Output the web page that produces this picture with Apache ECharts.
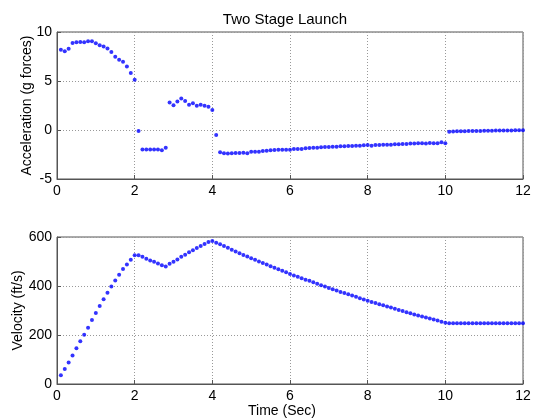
<!DOCTYPE html>
<html>
<head>
<meta charset="utf-8">
<script src="https://cdn.jsdelivr.net/npm/echarts@6/dist/echarts.min.js"></script>
<style>
html, body { margin: 0; padding: 0; background: #fff; }
#launch { width: 535px; height: 420px; }
</style>
</head>
<body>
<div id="launch"></div>
<script>
var time = [0.1, 0.2, 0.3, 0.4, 0.5, 0.6, 0.7, 0.8, 0.9, 1.0,
	1.1, 1.2, 1.3, 1.4, 1.5, 1.6, 1.7, 1.8, 1.9, 2.0,
	2.1, 2.2, 2.3, 2.4, 2.5, 2.6, 2.7, 2.8, 2.9, 3.0,
	3.1, 3.2, 3.3, 3.4, 3.5, 3.6, 3.7, 3.8, 3.9, 4.0,
	4.1, 4.2, 4.3, 4.4, 4.5, 4.6, 4.7, 4.8, 4.9, 5.0,
	5.1, 5.2, 5.3, 5.4, 5.5, 5.6, 5.7, 5.8, 5.9, 6.0,
	6.1, 6.2, 6.3, 6.4, 6.5, 6.6, 6.7, 6.8, 6.9, 7.0,
	7.1, 7.2, 7.3, 7.4, 7.5, 7.6, 7.7, 7.8, 7.9, 8.0,
	8.1, 8.2, 8.3, 8.4, 8.5, 8.6, 8.7, 8.8, 8.9, 9.0,
	9.1, 9.2, 9.3, 9.4, 9.5, 9.6, 9.7, 9.8, 9.9, 10.0,
	10.1, 10.2, 10.3, 10.4, 10.5, 10.6, 10.7, 10.8, 10.9, 11.0,
	11.1, 11.2, 11.3, 11.4, 11.5, 11.6, 11.7, 11.8, 11.9, 12.0];

// g forces
var accel = [8.18, 8.04, 8.28, 8.89, 8.95, 8.99, 8.95, 9.05, 9.05, 8.85,
	8.65, 8.51, 8.31, 7.97, 7.47, 7.16, 6.96, 6.49, 5.81, 5.14,
	-0.10, -1.99, -1.99, -1.99, -1.99, -1.99, -2.06, -1.82, 2.80, 2.53,
	2.91, 3.21, 2.97, 2.57, 2.74, 2.47, 2.57, 2.47, 2.36, 2.03,
	-0.51, -2.28, -2.38, -2.41, -2.38, -2.35, -2.35, -2.31, -2.38, -2.21,
	-2.21, -2.21, -2.14, -2.11, -2.07, -2.04, -2.01, -2.01, -2.01, -2.01,
	-1.94, -1.94, -1.94, -1.87, -1.84, -1.80, -1.80, -1.77, -1.73, -1.73,
	-1.70, -1.70, -1.67, -1.67, -1.63, -1.63, -1.60, -1.60, -1.56, -1.53,
	-1.60, -1.53, -1.53, -1.50, -1.50, -1.50, -1.46, -1.46, -1.43, -1.43,
	-1.39, -1.39, -1.36, -1.36, -1.39, -1.33, -1.36, -1.36, -1.26, -1.36,
	-0.17, -0.15, -0.14, -0.14, -0.12, -0.11, -0.11, -0.10, -0.09, -0.08,
	-0.08, -0.07, -0.06, -0.06, -0.05, -0.05, -0.04, -0.03, -0.03, -0.02];

// ft/s
var velocity = [36, 61, 88, 116, 146, 174, 201, 230, 261, 290,
	318, 346, 372, 398, 422, 446, 469, 488, 507, 526,
	526, 519, 511, 504, 499, 492, 485, 480, 491, 499,
	508, 519, 528, 538, 546, 555, 563, 571, 580, 584,
	577, 570, 563, 556, 548, 541, 534, 527, 520, 513,
	507, 500, 494, 488, 481, 475, 468, 462, 456, 449,
	443, 438, 432, 426, 421, 415, 409, 403, 398, 392,
	387, 382, 376, 371, 366, 361, 356, 350, 345, 340,
	335, 331, 326, 321, 316, 312, 307, 302, 298, 293,
	289, 284, 280, 276, 271, 267, 263, 259, 254, 250,
	248, 248, 248, 248, 248, 248, 248, 248, 248, 248,
	248, 248, 248, 248, 248, 248, 248, 248, 248, 248];

var accelTicks = [-5, 10, 5];
var velTicks = [0, 600, 200];
var timeTicks = [0, 12, 2];

function pairs(xs, ys) {
	var out = [];
	for (var i = 0; i < xs.length; i++) out.push([xs[i], ys[i]]);
	return out;
}

var myChart = echarts.init(document.getElementById('launch'));

var font = 'Liberation Sans, Arial, sans-serif';
var lineCol = '#555';

function xAxisCfg(idx, name) {
	return {
		gridIndex: idx, type: 'value',
		min: timeTicks[0], max: timeTicks[1], interval: timeTicks[2],
		name: name, nameLocation: 'middle', nameGap: 20, nameMoveOverlap: false,
		nameTextStyle: { color: '#000', fontSize: 14, fontFamily: font, padding: [0, 16, 0, 0] },
		axisLine: { show: true, onZero: false, lineStyle: { color: lineCol } },
		axisTick: { show: true, inside: true, length: 4, lineStyle: { color: lineCol } },
		axisLabel: { color: '#000', fontSize: 14, fontFamily: font, margin: 5 },
		splitLine: { show: true, lineStyle: { color: '#999', type: [1, 2] } }
	};
}

function yAxisCfg(idx, ticks, name, gap) {
	return {
		gridIndex: idx, type: 'value',
		min: ticks[0], max: ticks[1], interval: ticks[2],
		name: name, nameLocation: 'middle', nameGap: gap, nameMoveOverlap: false,
		nameTextStyle: { color: '#000', fontSize: 14, fontFamily: font },
		axisLine: { show: true, onZero: false, lineStyle: { color: lineCol } },
		axisTick: { show: true, inside: true, length: 4, lineStyle: { color: lineCol } },
		axisLabel: { color: '#000', fontSize: 14, fontFamily: font, margin: 5 },
		splitLine: { show: true, lineStyle: { color: '#999', type: [1, 2] } }
	};
}

option = {
	animation: false,
	title: {
		text: 'Two Stage Launch',
		left: 280, top: 7, textAlign: 'center',
		textStyle: { color: '#000', fontSize: 15, fontWeight: 'normal', fontFamily: font }
	},
	grid: [
		{ left: 57, top: 32, width: 466, height: 147, show: true, borderColor: lineCol, borderWidth: 1 },
		{ left: 57, top: 237, width: 466, height: 147, show: true, borderColor: lineCol, borderWidth: 1 }
	],
	xAxis: [xAxisCfg(0, ''), xAxisCfg(1, 'Time (Sec)')],
	yAxis: [
		yAxisCfg(0, accelTicks, 'Acceleration (g forces)', 23),
		yAxisCfg(1, velTicks, 'Velocity (ft/s)', 32)
	],
	series: [
		{
			name: 'Acceleration', type: 'scatter',
			xAxisIndex: 0, yAxisIndex: 0,
			symbolSize: 4, itemStyle: { color: '#0000ff' },
			data: pairs(time, accel)
		},
		{
			name: 'Velocity', type: 'scatter',
			xAxisIndex: 1, yAxisIndex: 1,
			symbolSize: 4, itemStyle: { color: '#0000ff' },
			data: pairs(time, velocity)
		}
	]
};

myChart.setOption(option);
</script>
</body>
</html>
